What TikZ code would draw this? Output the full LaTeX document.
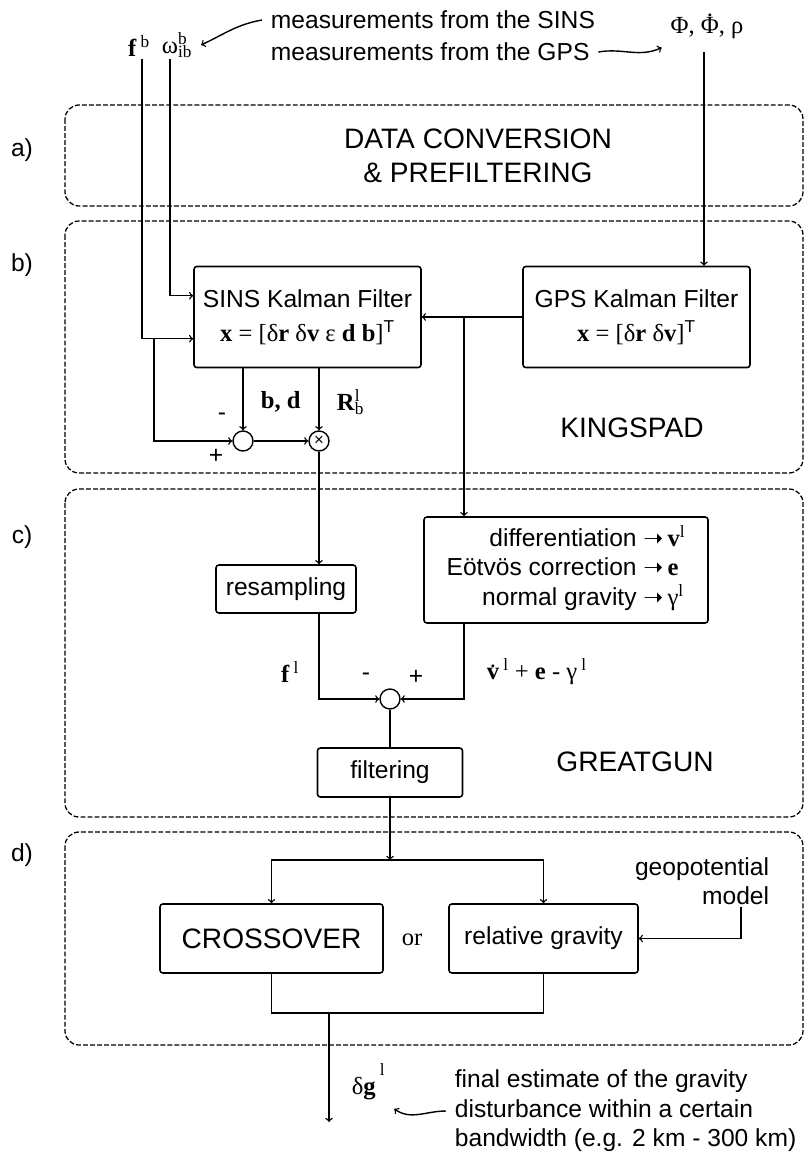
\documentclass[tikz,border=0pt]{standalone}
\usepackage{fontspec}
\setmainfont{Liberation Sans}
\newfontfamily\tms{Liberation Serif}
\newfontfamily\djv{DejaVu Sans}
\newcommand{\topdot}[2]{\ooalign{#2\cr\hfil\smash{\raisebox{#1}{.}}\hfil\cr}}
\newcommand{\yields}{{\djv\fontsize{17}{17}\selectfont ➝}}

\begin{document}
\fontsize{17.5}{21}\selectfont
\begin{tikzpicture}[line width=1pt,
        box/.style={draw, rounded corners=2pt, line width=1.1pt, align=center, inner sep=2pt},
        frame/.style={dash pattern=on 3.5pt off 1.5pt, rounded corners=10pt, line width=0.9pt},
        junc/.style={circle, draw, minimum size=0.5cm, inner sep=0pt},
        title/.style={font=\fontsize{20}{24}\selectfont}]

        \useasboundingbox (0,0) rectangle (20.15,-28.8);

        % the four stages
        \draw[frame] (1.625,-2.625) rectangle (20.075,-5.15);
        \draw[frame] (1.625,-5.525) rectangle (20.075,-11.825);
        \draw[frame] (1.625,-12.225) rectangle (20.075,-20.425);
        \draw[frame] (1.625,-20.8) rectangle (20.075,-26.125);

        \node (la) at (0.55,-3.75) {a)};
        \node (lb) at (0.55,-6.625) {b)};
        \node (lc) at (0.55,-13.425) {c)};
        \node (ld) at (0.55,-21.375) {d)};

        % inputs
        \node (sinsnote) [anchor=west] at (6.55,-0.5) {measurements from the SINS};
        \node (gpsnote) [anchor=west] at (6.55,-1.3) {measurements from the GPS};
        \node (fb) at (3.475,-1.15) {\tms\textbf{f}\,\textsuperscript{b}};
        \node (om) at (4.425,-1.125) {\tms ω\rlap{\textsuperscript{b}}\textsubscript{ib}};
        \node (phi) at (17.675,-0.7) {\tms Φ, \topdot{0.68em}{Φ}, ρ};
        \coordinate (fin) at (3.55,-1.475);
        \coordinate (omin) at (4.25,-1.475);
        \coordinate (phiin) at (17.6,-1.3);
        \draw[->] (sinsnote.west) to[out=190,in=25] (om.east);
        \draw[->] (gpsnote.east) to[out=10,in=205] (phi.south west);

        % a)
        \node (conv) [title, align=center] at (11.95,-3.9) {DATA CONVERSION\\ \& PREFILTERING};

        % b)
        \node (sins) [box, minimum width=5.675cm, minimum height=2.525cm] at (7.6875,-7.925)
            {SINS Kalman Filter\\[3pt] {\tms\textbf{x} = [δ\textbf{r} δ\textbf{v} ε \textbf{d} \textbf{b}]}\textsuperscript{T}};
        \node (gps) [box, minimum width=5.675cm, minimum height=2.525cm] at (15.9125,-7.925)
            {GPS Kalman Filter\\[3pt] {\tms\textbf{x} = [δ\textbf{r} δ\textbf{v}]}\textsuperscript{T}};
        \node (kings) [title] at (15.8,-10.7) {KINGSPAD};
        \node (sum1) [junc] at (6.075,-11.025) {};
        \node (mult) [junc] at (7.975,-11.025) {\fontsize{12}{12}\selectfont ×};
        \coordinate (jn) at (11.6,-7.925);
        \coordinate (fbr) at (3.85,-8.475);

        \draw[->] (omin) |- ([yshift=-0.75cm]sins.north west);
        \draw[->] (fin) |- ([yshift=-1.825cm]sins.north west);
        \draw[->] (fbr) |- (sum1.west);
        \draw[->] (phiin) -- (phiin |- gps.north);
        \draw[->] (gps.west) -- (sins.east);
        \draw[->] (sum1 |- sins.south) -- (sum1);
        \draw[->] (mult |- sins.south) -- (mult);
        \draw[->] (sum1) -- (mult);

        \node (bd) [anchor=west] at (6.3,-10.05) {\tms\textbf{b, d}};
        \node (rbl) [anchor=west] at (8.2,-10.05) {\tms\textbf{R}\rlap{\textsuperscript{l}}\textsubscript{b}};
        \node (m1) at (5.55,-10.425) {-};
        \node (p1) at (5.4,-11.4) {+};

        % c)
        \node (diff) [box, minimum width=7.1cm, minimum height=2.65cm] at (14.15,-14.25)
            {\begin{tabular}{@{}r@{\,}l@{}}
                differentiation \yields & {\tms\textbf{v}\textsuperscript{l}}\\
                Eötvös correction \yields & {\tms\textbf{e}}\\
                normal gravity \yields & {\tms γ\textsuperscript{l}}
            \end{tabular}};
        \node (resamp) [box, minimum width=3.5cm, minimum height=1.2cm] at (7.15,-14.725) {resampling};
        \node (sum2) [junc] at (9.75,-17.475) {};
        \node (filt) [box, minimum width=3.625cm, minimum height=1.225cm] at (9.75,-19.3125) {filtering};
        \node (great) [title] at (15.875,-19.05) {GREATGUN};

        \draw[->] (jn) -- (jn |- diff.north);
        \draw[->] (mult) -- (mult |- resamp.north);
        \draw[->] (mult |- resamp.south) |- (sum2.west);
        \draw[->] (jn |- diff.south) |- (sum2.east);
        \draw (sum2) -- (filt);

        \node (fl) [anchor=east] at (7.7,-16.8) {\tms\textbf{f}\,\textsuperscript{l}};
        \node (m2) at (9.15,-16.925) {-};
        \node (p2) at (10.4,-16.925) {+};
        \node (vdot) [anchor=west] at (11.95,-16.8)
            {\tms\topdot{0.5em}{\textbf{v}}\,\textsuperscript{l} + \textbf{e} - γ\,\textsuperscript{l}};

        % d)
        \node (cross) [box, title, minimum width=5.575cm, minimum height=1.725cm] at (6.7875,-23.4625) {CROSSOVER};
        \node (or) at (10.3,-23.5) {\tms or};
        \node (relg) [box, minimum width=4.725cm, minimum height=1.725cm] at (13.5875,-23.4625) {relative gravity};
        \node (geo) [anchor=east, align=right] at (19.45,-22.025) {geopotential\\ model};
        \coordinate (split) at (9.75,-21.5);
        \coordinate (geoout) at (18.525,-22.675);
        \coordinate (merge) at (8.225,-25.325);
        \coordinate (out) at (8.225,-28.05);

        \draw[->] (filt) -- (split);
        \draw[->] (split) -| (cross.north);
        \draw[->] (split) -| (relg.north);
        \draw[->] (geoout) |- (relg.east);
        \draw (cross.south) |- (merge) -| (relg.south);
        \draw[->] (merge) -- (out);

        % output
        \node (dg) [anchor=west] at (8.575,-27.05) {\tms δ\textbf{g}\,\raisebox{0.4em}{\textsuperscript{l}}};
        \node (finalnote) [anchor=west, align=left] at (11.15,-27.775)
            {final estimate of the gravity\\ disturbance within a certain\\ bandwidth (e.g. 2 km - 300 km)};
        \draw[->] (finalnote.west) to[out=180,in=-35] (dg.south east);
    \end{tikzpicture}
\end{document}
